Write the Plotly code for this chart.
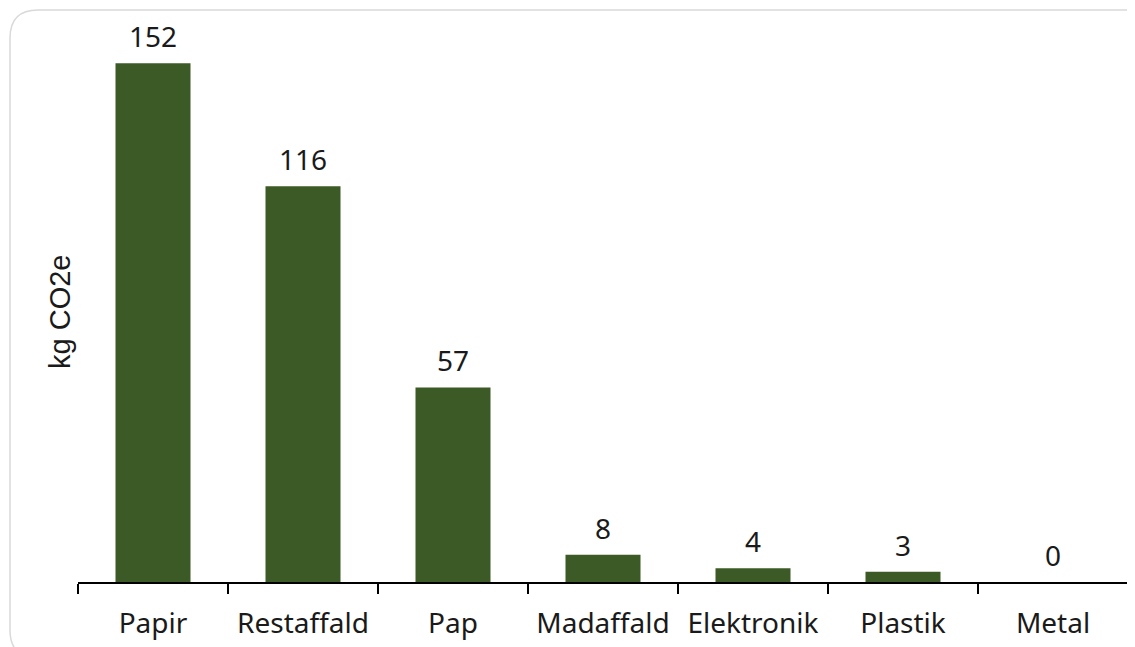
import plotly.graph_objects as go

categories = ["Papir", "Restaffald", "Pap", "Madaffald", "Elektronik", "Plastik", "Metal"]
values = [152, 116, 57, 8, 4, 3, 0]
y_title = "kg CO2e"

W, H = 1135, 647
ML, MR, MT, MB = 70, 15, 28, 73
PW, PH = W - ML - MR, H - MT - MB

def P(x, y):
    a, b = (x - ML) / PW, (H - MB - y) / PH
    return f"{a:.5f},{b:.5f}"

# rounded border path (pixel corners converted to paper coords)
x0, y0, x1, y1, r = 2, 2, 1160, 650, 28
path = (f"M {P(x0 + r, y0)} L {P(x1 - r, y0)} Q {P(x1, y0)} {P(x1, y0 + r)} "
        f"L {P(x1, y1 - r)} Q {P(x1, y1)} {P(x1 - r, y1)} "
        f"L {P(x0 + r, y1)} Q {P(x0, y1)} {P(x0, y1 - r)} "
        f"L {P(x0, y0 + r)} Q {P(x0, y0)} {P(x0 + r, y0)} Z")

fig = go.Figure(go.Bar(
    x=categories, y=values,
    marker=dict(color="#3C5A25", line=dict(width=0)),
    hoverinfo="x+y",
))

value_labels = [dict(x=c, y=v, text=str(v), xref="x", yref="y", showarrow=False,
                     xanchor="center", yanchor="bottom", yshift=6,
                     font=dict(family="Noto Sans", size=28, color="#1a1a1a"))
                for c, v in zip(categories, values)]

tx, ty = P(52, 304).split(",")
fig.update_layout(
    width=W, height=H,
    margin=dict(l=ML, r=MR, t=MT, b=MB),
    paper_bgcolor="white", plot_bgcolor="white",
    bargap=0.5, showlegend=False,
    font=dict(family="Noto Sans", color="#1a1a1a"),
    shapes=[dict(type="path", path=path, xref="paper", yref="paper",
                 line=dict(color="#D9D9D9", width=1.5), layer="below")],
    annotations=value_labels + [dict(text=y_title, xref="paper", yref="paper", x=float(tx), y=float(ty),
                      xanchor="center", yanchor="middle", textangle=-90, showarrow=False,
                      font=dict(family="Liberation Sans", size=29, color="#1a1a1a"))],
)
fig.update_xaxes(
    showline=True, linecolor="black", linewidth=2,
    ticks="outside", tickson="boundaries", ticklen=10, tickwidth=2, tickcolor="black",
    tickfont=dict(family="Noto Sans", size=28, color="#1a1a1a"),
    ticklabelstandoff=15,
    showgrid=False, automargin=False,
)
fig.update_yaxes(
    range=[0, 160], showticklabels=False, showgrid=False,
    showline=False, zeroline=False, ticks="", automargin=False,
)

fig.write_html("out.html")
